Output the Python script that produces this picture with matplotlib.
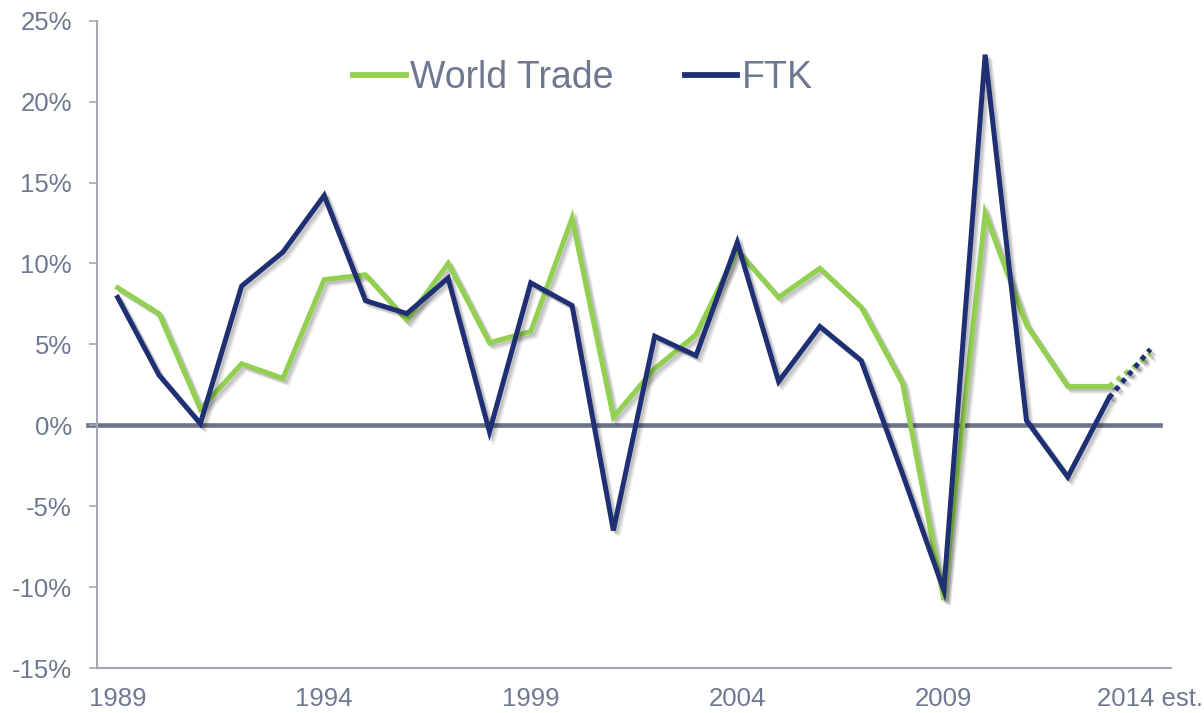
import matplotlib
matplotlib.use("Agg")
import matplotlib.pyplot as plt
import matplotlib.patheffects as pe

years = list(range(1989, 2015))
world_trade = [8.5, 6.9, 1.0, 3.8, 2.9, 9.0, 9.3, 6.5, 10.0, 5.1, 5.8, 12.8, 0.5,
               3.5, 5.6, 10.8, 7.9, 9.7, 7.3, 2.6, -10.8, 13.1, 6.2, 2.4, 2.4, 4.4]
ftk = [7.9, 3.1, 0.1, 8.6, 10.7, 14.2, 7.7, 6.9, 9.1, -0.4, 8.8, 7.4, -6.5,
       5.5, 4.3, 11.3, 2.7, 6.1, 4.0, -3.0, -10.2, 22.9, 0.3, -3.2, 1.7, 4.7]
xtick_years = [1989, 1994, 1999, 2004, 2009, 2014]
xtick_labels = ["1989", "1994", "1999", "2004", "2009", "2014 est."]
yticks = [-15, -10, -5, 0, 5, 10, 15, 20, 25]
ytick_labels = [f"{v}%" for v in yticks]

GREEN = "#92D050"
NAVY = "#1F2F74"
TEXT = "#6E7891"
ZERO = "#6B7388"
SPINE = "#A5A8B3"

plt.rcParams["font.family"] = ["Liberation Sans", "DejaVu Sans"]

fig = plt.figure(figsize=(12.04, 7.13), dpi=100)
ax = fig.add_axes([0.0806, 0.0631, 0.8920, 0.9079])

shadow = [pe.SimpleLineShadow(offset=(1.5, -1.5), shadow_color="black", alpha=0.10),
          pe.SimpleLineShadow(offset=(2.5, -2.5), shadow_color="black", alpha=0.10),
          pe.SimpleLineShadow(offset=(3.5, -3.5), shadow_color="black", alpha=0.07),
          pe.Normal()]

ax.axhline(0, xmin=-0.008, xmax=0.99, color=ZERO, lw=3.3, zorder=1, clip_on=False)

lw = 3.6
ax.plot(years[:-1], world_trade[:-1], color=GREEN, lw=lw, solid_joinstyle="miter",
        path_effects=shadow, zorder=3, label="World Trade")
ax.plot(years[-2:], world_trade[-2:], color=GREEN, lw=lw, ls=(0, (1, 1)),
        path_effects=shadow, zorder=3)
ax.plot(years[:-1], ftk[:-1], color=NAVY, lw=lw, solid_joinstyle="miter",
        path_effects=shadow, zorder=4, label="FTK")
ax.plot(years[-2:], ftk[-2:], color=NAVY, lw=lw, ls=(0, (1, 1)),
        path_effects=shadow, zorder=4)

ax.set_xlim(1988.5, 2014.5)
ax.set_ylim(-15, 25)
ax.set_yticks(yticks)
ax.set_yticklabels(ytick_labels)
ax.set_xticks(xtick_years)
ax.set_xticklabels(xtick_labels)

for s in ["top", "right"]:
    ax.spines[s].set_visible(False)
for s in ["left", "bottom"]:
    ax.spines[s].set_color(SPINE)
    ax.spines[s].set_linewidth(1.5)

ax.tick_params(axis="y", colors=SPINE, labelcolor=TEXT, labelsize=18.5,
               length=6, width=1.2, pad=12)
ax.tick_params(axis="x", colors=SPINE, labelcolor=TEXT, labelsize=18.5,
               length=0, pad=14)

leg = ax.legend(loc="center", bbox_to_anchor=(0.4525, 0.9115), ncol=2,
                frameon=False, fontsize=27, handlelength=1.4,
                handletextpad=0.12, columnspacing=1.9)
for t in leg.get_texts():
    t.set_color(TEXT)
for h in leg.get_lines():
    h.set_path_effects([])
    h.set_linewidth(4.2)

fig.savefig("out.png", dpi=100)
